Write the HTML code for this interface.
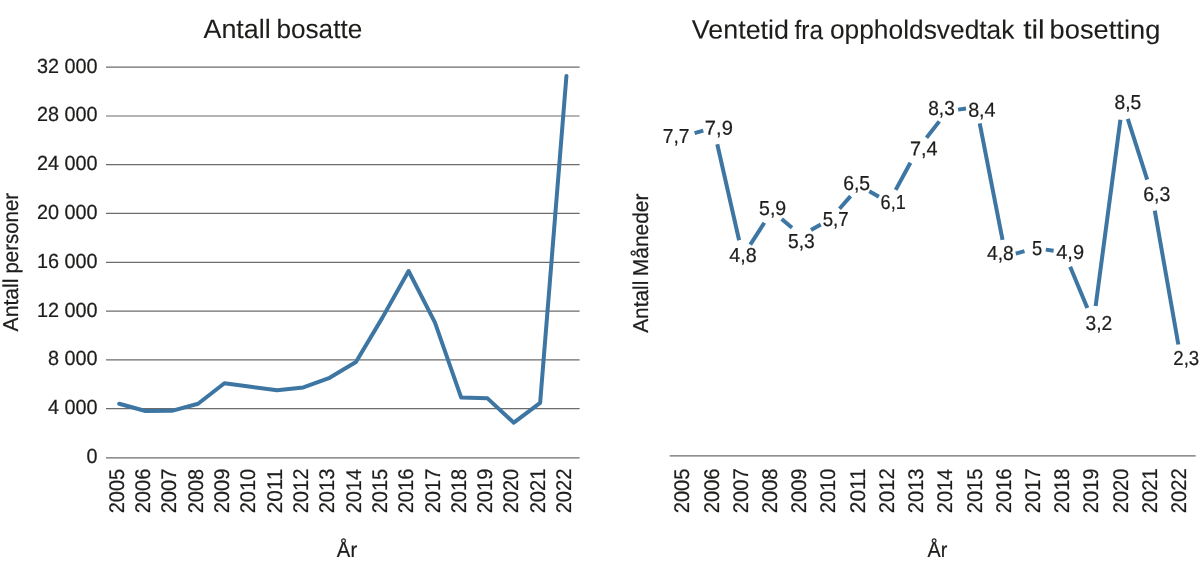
<!DOCTYPE html>
<html lang="no">
<head>
<meta charset="utf-8">
<title>Antall bosatte og ventetid fra oppholdsvedtak til bosetting</title>
<style>
html,body{margin:0;padding:0;background:#fff;}
body{width:1200px;height:577px;overflow:hidden;}
svg{display:block;}
svg text{font-family:"Liberation Sans",sans-serif;fill:#1d1d1b;text-rendering:geometricPrecision;stroke:#1d1d1b;stroke-width:0.22px;stroke-linejoin:round;}
svg text.h{stroke-width:0.08px;}
</style>
</head>
<body>
<svg width="1200" height="577" viewBox="0 0 1200 577">
<rect width="1200" height="577" fill="#ffffff"/>
<line x1="106.0" x2="579.6" y1="457.80" y2="457.80" stroke="#6c6c6c" stroke-width="1.2"/>
<line x1="106.0" x2="579.6" y1="408.65" y2="408.65" stroke="#6c6c6c" stroke-width="1.2"/>
<line x1="106.0" x2="579.6" y1="359.90" y2="359.90" stroke="#6c6c6c" stroke-width="1.2"/>
<line x1="106.0" x2="579.6" y1="311.15" y2="311.15" stroke="#6c6c6c" stroke-width="1.2"/>
<line x1="106.0" x2="579.6" y1="262.30" y2="262.30" stroke="#6c6c6c" stroke-width="1.2"/>
<line x1="106.0" x2="579.6" y1="213.45" y2="213.45" stroke="#6c6c6c" stroke-width="1.2"/>
<line x1="106.0" x2="579.6" y1="164.60" y2="164.60" stroke="#6c6c6c" stroke-width="1.2"/>
<line x1="106.0" x2="579.6" y1="116.00" y2="116.00" stroke="#6c6c6c" stroke-width="1.2"/>
<line x1="106.0" x2="579.6" y1="67.10" y2="67.10" stroke="#6c6c6c" stroke-width="1.2"/>
<text transform="matrix(1 0.0005 0 1 86.46 463.25)" font-size="20.5" textLength="11.01" lengthAdjust="spacingAndGlyphs">0</text>
<text transform="matrix(1 0.0005 0 1 47.93 414.10)" font-size="20.5" textLength="49.55" lengthAdjust="spacingAndGlyphs">4 000</text>
<text transform="matrix(1 0.0005 0 1 47.93 365.35)" font-size="20.5" textLength="49.55" lengthAdjust="spacingAndGlyphs">8 000</text>
<text transform="matrix(1 0.0005 0 1 36.91 316.60)" font-size="20.5" textLength="60.56" lengthAdjust="spacingAndGlyphs">12 000</text>
<text transform="matrix(1 0.0005 0 1 36.91 267.75)" font-size="20.5" textLength="60.56" lengthAdjust="spacingAndGlyphs">16 000</text>
<text transform="matrix(1 0.0005 0 1 36.91 218.90)" font-size="20.5" textLength="60.56" lengthAdjust="spacingAndGlyphs">20 000</text>
<text transform="matrix(1 0.0005 0 1 36.91 170.05)" font-size="20.5" textLength="60.56" lengthAdjust="spacingAndGlyphs">24 000</text>
<text transform="matrix(1 0.0005 0 1 36.91 121.45)" font-size="20.5" textLength="60.56" lengthAdjust="spacingAndGlyphs">28 000</text>
<text transform="matrix(1 0.0005 0 1 36.91 72.55)" font-size="20.5" textLength="60.56" lengthAdjust="spacingAndGlyphs">32 000</text>
<text transform="translate(123.81 513.31) rotate(-90)" font-size="21.2" textLength="44.55" lengthAdjust="spacingAndGlyphs">2005</text>
<text transform="translate(150.12 513.31) rotate(-90)" font-size="21.2" textLength="44.59" lengthAdjust="spacingAndGlyphs">2006</text>
<text transform="translate(176.43 513.31) rotate(-90)" font-size="21.2" textLength="44.72" lengthAdjust="spacingAndGlyphs">2007</text>
<text transform="translate(202.74 513.31) rotate(-90)" font-size="21.2" textLength="44.58" lengthAdjust="spacingAndGlyphs">2008</text>
<text transform="translate(229.05 513.31) rotate(-90)" font-size="21.2" textLength="44.66" lengthAdjust="spacingAndGlyphs">2009</text>
<text transform="translate(255.36 513.31) rotate(-90)" font-size="21.2" textLength="44.49" lengthAdjust="spacingAndGlyphs">2010</text>
<text transform="translate(281.67 513.31) rotate(-90)" font-size="21.2" textLength="44.69" lengthAdjust="spacingAndGlyphs">2011</text>
<text transform="translate(307.98 513.31) rotate(-90)" font-size="21.2" textLength="44.72" lengthAdjust="spacingAndGlyphs">2012</text>
<text transform="translate(334.29 513.31) rotate(-90)" font-size="21.2" textLength="44.59" lengthAdjust="spacingAndGlyphs">2013</text>
<text transform="translate(360.61 513.30) rotate(-90)" font-size="21.2" textLength="44.28" lengthAdjust="spacingAndGlyphs">2014</text>
<text transform="translate(386.92 513.31) rotate(-90)" font-size="21.2" textLength="44.55" lengthAdjust="spacingAndGlyphs">2015</text>
<text transform="translate(413.23 513.31) rotate(-90)" font-size="21.2" textLength="44.59" lengthAdjust="spacingAndGlyphs">2016</text>
<text transform="translate(439.54 513.31) rotate(-90)" font-size="21.2" textLength="44.72" lengthAdjust="spacingAndGlyphs">2017</text>
<text transform="translate(465.85 513.31) rotate(-90)" font-size="21.2" textLength="44.58" lengthAdjust="spacingAndGlyphs">2018</text>
<text transform="translate(492.16 513.31) rotate(-90)" font-size="21.2" textLength="44.66" lengthAdjust="spacingAndGlyphs">2019</text>
<text transform="translate(518.47 513.31) rotate(-90)" font-size="21.2" textLength="44.49" lengthAdjust="spacingAndGlyphs">2020</text>
<text transform="translate(544.78 513.31) rotate(-90)" font-size="21.2" textLength="44.69" lengthAdjust="spacingAndGlyphs">2021</text>
<text transform="translate(571.09 513.31) rotate(-90)" font-size="21.2" textLength="44.72" lengthAdjust="spacingAndGlyphs">2022</text>
<polyline points="119.16,403.71 145.47,411.00 171.78,410.83 198.09,403.71 224.40,383.23 250.71,386.77 277.02,390.31 303.33,387.44 329.64,377.79 355.96,362.00 382.27,317.89 408.58,270.99 434.89,322.41 461.20,397.60 487.51,398.37 513.82,422.70 540.13,402.89 566.44,75.96" fill="none" stroke="#3d76a2" stroke-width="4" stroke-linejoin="round" stroke-linecap="round"/>
<text class="h" transform="matrix(1 0.0005 0 1 203.45 38.00)" font-size="26.5" textLength="67.25" lengthAdjust="spacingAndGlyphs">Antall</text>
<text class="h" transform="matrix(1 0.0005 0 1 276.41 38.00)" font-size="26.5" textLength="85.85" lengthAdjust="spacingAndGlyphs">bosatte</text>
<text transform="translate(18.20 331.44) rotate(-90)" font-size="21.5" textLength="52.85" lengthAdjust="spacingAndGlyphs">Antall</text>
<text transform="translate(18.20 273.62) rotate(-90)" font-size="21.5" textLength="80.76" lengthAdjust="spacingAndGlyphs">personer</text>
<text transform="matrix(1 0.0005 0 1 336.86 556.60)" font-size="21.5" textLength="20.28" lengthAdjust="spacingAndGlyphs">År</text>
<line x1="669.7" x2="1195.7" y1="455.8" y2="455.8" stroke="#6c6c6c" stroke-width="1.3"/>
<text transform="translate(689.31 513.21) rotate(-90)" font-size="21.2" textLength="44.65" lengthAdjust="spacingAndGlyphs">2005</text>
<text transform="translate(718.53 513.21) rotate(-90)" font-size="21.2" textLength="44.69" lengthAdjust="spacingAndGlyphs">2006</text>
<text transform="translate(747.76 513.21) rotate(-90)" font-size="21.2" textLength="44.83" lengthAdjust="spacingAndGlyphs">2007</text>
<text transform="translate(776.98 513.21) rotate(-90)" font-size="21.2" textLength="44.68" lengthAdjust="spacingAndGlyphs">2008</text>
<text transform="translate(806.20 513.21) rotate(-90)" font-size="21.2" textLength="44.77" lengthAdjust="spacingAndGlyphs">2009</text>
<text transform="translate(835.42 513.21) rotate(-90)" font-size="21.2" textLength="44.59" lengthAdjust="spacingAndGlyphs">2010</text>
<text transform="translate(864.64 513.21) rotate(-90)" font-size="21.2" textLength="44.80" lengthAdjust="spacingAndGlyphs">2011</text>
<text transform="translate(893.87 513.21) rotate(-90)" font-size="21.2" textLength="44.83" lengthAdjust="spacingAndGlyphs">2012</text>
<text transform="translate(923.09 513.21) rotate(-90)" font-size="21.2" textLength="44.69" lengthAdjust="spacingAndGlyphs">2013</text>
<text transform="translate(952.31 513.20) rotate(-90)" font-size="21.2" textLength="44.39" lengthAdjust="spacingAndGlyphs">2014</text>
<text transform="translate(981.53 513.21) rotate(-90)" font-size="21.2" textLength="44.65" lengthAdjust="spacingAndGlyphs">2015</text>
<text transform="translate(1010.76 513.21) rotate(-90)" font-size="21.2" textLength="44.69" lengthAdjust="spacingAndGlyphs">2016</text>
<text transform="translate(1039.98 513.21) rotate(-90)" font-size="21.2" textLength="44.83" lengthAdjust="spacingAndGlyphs">2017</text>
<text transform="translate(1069.20 513.21) rotate(-90)" font-size="21.2" textLength="44.68" lengthAdjust="spacingAndGlyphs">2018</text>
<text transform="translate(1098.42 513.21) rotate(-90)" font-size="21.2" textLength="44.77" lengthAdjust="spacingAndGlyphs">2019</text>
<text transform="translate(1127.64 513.21) rotate(-90)" font-size="21.2" textLength="44.59" lengthAdjust="spacingAndGlyphs">2020</text>
<text transform="translate(1156.87 513.21) rotate(-90)" font-size="21.2" textLength="44.80" lengthAdjust="spacingAndGlyphs">2021</text>
<text transform="translate(1186.09 513.21) rotate(-90)" font-size="21.2" textLength="44.83" lengthAdjust="spacingAndGlyphs">2022</text>
<line x1="694.60" y1="133.13" x2="703.30" y2="130.66" stroke="#3d76a2" stroke-width="4"/>
<line x1="717.27" y1="144.20" x2="739.10" y2="240.30" stroke="#3d76a2" stroke-width="4"/>
<line x1="750.30" y1="244.61" x2="764.30" y2="222.74" stroke="#3d76a2" stroke-width="4"/>
<line x1="781.70" y1="219.03" x2="792.00" y2="227.81" stroke="#3d76a2" stroke-width="4"/>
<line x1="811.00" y1="230.08" x2="820.80" y2="224.52" stroke="#3d76a2" stroke-width="4"/>
<line x1="839.50" y1="208.74" x2="850.60" y2="196.13" stroke="#3d76a2" stroke-width="4"/>
<line x1="869.30" y1="191.33" x2="878.90" y2="196.79" stroke="#3d76a2" stroke-width="4"/>
<line x1="895.70" y1="189.83" x2="910.40" y2="162.70" stroke="#3d76a2" stroke-width="4"/>
<line x1="926.50" y1="137.75" x2="939.30" y2="121.39" stroke="#3d76a2" stroke-width="4"/>
<line x1="958.10" y1="109.62" x2="966.00" y2="108.50" stroke="#3d76a2" stroke-width="4"/>
<line x1="979.72" y1="123.30" x2="1002.53" y2="239.90" stroke="#3d76a2" stroke-width="4"/>
<line x1="1015.80" y1="253.55" x2="1024.50" y2="251.08" stroke="#3d76a2" stroke-width="4"/>
<line x1="1045.80" y1="249.64" x2="1053.60" y2="250.74" stroke="#3d76a2" stroke-width="4"/>
<line x1="1070.19" y1="266.70" x2="1087.33" y2="308.10" stroke="#3d76a2" stroke-width="4"/>
<line x1="1095.65" y1="306.00" x2="1120.39" y2="119.80" stroke="#3d76a2" stroke-width="4"/>
<line x1="1127.78" y1="118.90" x2="1147.21" y2="179.60" stroke="#3d76a2" stroke-width="4"/>
<line x1="1154.78" y1="210.70" x2="1178.33" y2="344.50" stroke="#3d76a2" stroke-width="4"/>
<text transform="matrix(1 0.0005 0 1 662.71 142.50)" font-size="20.2" textLength="26.75" lengthAdjust="spacingAndGlyphs">7,7</text>
<text transform="matrix(1 0.0005 0 1 704.87 134.70)" font-size="20.2" textLength="27.99" lengthAdjust="spacingAndGlyphs">7,9</text>
<text transform="matrix(1 0.0005 0 1 729.35 262.30)" font-size="20.2" textLength="27.30" lengthAdjust="spacingAndGlyphs">4,8</text>
<text transform="matrix(1 0.0005 0 1 759.02 214.70)" font-size="20.2" textLength="27.21" lengthAdjust="spacingAndGlyphs">5,9</text>
<text transform="matrix(1 0.0005 0 1 787.93 247.60)" font-size="20.2" textLength="26.82" lengthAdjust="spacingAndGlyphs">5,3</text>
<text transform="matrix(1 0.0005 0 1 822.65 225.70)" font-size="20.2" textLength="25.99" lengthAdjust="spacingAndGlyphs">5,7</text>
<text transform="matrix(1 0.0005 0 1 843.22 190.20)" font-size="20.2" textLength="26.89" lengthAdjust="spacingAndGlyphs">6,5</text>
<text transform="matrix(1 0.0005 0 1 880.58 209.30)" font-size="20.2" textLength="25.21" lengthAdjust="spacingAndGlyphs">6,1</text>
<text transform="matrix(1 0.0005 0 1 909.88 155.40)" font-size="20.2" textLength="27.60" lengthAdjust="spacingAndGlyphs">7,4</text>
<text transform="matrix(1 0.0005 0 1 928.27 114.70)" font-size="20.2" textLength="26.46" lengthAdjust="spacingAndGlyphs">8,3</text>
<text transform="matrix(1 0.0005 0 1 968.14 116.70)" font-size="20.2" textLength="27.44" lengthAdjust="spacingAndGlyphs">8,4</text>
<text transform="matrix(1 0.0005 0 1 986.96 259.80)" font-size="20.2" textLength="26.78" lengthAdjust="spacingAndGlyphs">4,8</text>
<text transform="matrix(1 0.0005 0 1 1032.07 254.90)" font-size="20.2" textLength="10.21" lengthAdjust="spacingAndGlyphs">5</text>
<text transform="matrix(1 0.0005 0 1 1056.24 258.90)" font-size="20.2" textLength="27.81" lengthAdjust="spacingAndGlyphs">4,9</text>
<text transform="matrix(1 0.0005 0 1 1085.57 329.90)" font-size="20.2" textLength="26.70" lengthAdjust="spacingAndGlyphs">3,2</text>
<text transform="matrix(1 0.0005 0 1 1114.46 109.40)" font-size="20.2" textLength="26.74" lengthAdjust="spacingAndGlyphs">8,5</text>
<text transform="matrix(1 0.0005 0 1 1143.21 201.10)" font-size="20.2" textLength="27.15" lengthAdjust="spacingAndGlyphs">6,3</text>
<text transform="matrix(1 0.0005 0 1 1173.26 365.40)" font-size="20.2" textLength="25.96" lengthAdjust="spacingAndGlyphs">2,3</text>
<text class="h" transform="matrix(1 0.0005 0 1 691.78 38.60)" font-size="26.5" textLength="97.22" lengthAdjust="spacingAndGlyphs">Ventetid</text>
<text class="h" transform="matrix(1 0.0005 0 1 794.45 38.60)" font-size="26.5" textLength="28.55" lengthAdjust="spacingAndGlyphs">fra</text>
<text class="h" transform="matrix(1 0.0005 0 1 829.89 38.60)" font-size="26.5" textLength="184.57" lengthAdjust="spacingAndGlyphs">oppholdsvedtak</text>
<text class="h" transform="matrix(1 0.0005 0 1 1023.15 38.60)" font-size="26.5" textLength="21.55" lengthAdjust="spacingAndGlyphs">til</text>
<text class="h" transform="matrix(1 0.0005 0 1 1049.54 38.60)" font-size="26.5" textLength="110.82" lengthAdjust="spacingAndGlyphs">bosetting</text>
<text transform="translate(648.20 332.84) rotate(-90)" font-size="21.5" textLength="52.24" lengthAdjust="spacingAndGlyphs">Antall</text>
<text transform="translate(648.20 276.22) rotate(-90)" font-size="21.5" textLength="82.67" lengthAdjust="spacingAndGlyphs">Måneder</text>
<text transform="matrix(1 0.0005 0 1 927.56 556.60)" font-size="21.5" textLength="19.77" lengthAdjust="spacingAndGlyphs">År</text>
</svg>
</body>
</html>
